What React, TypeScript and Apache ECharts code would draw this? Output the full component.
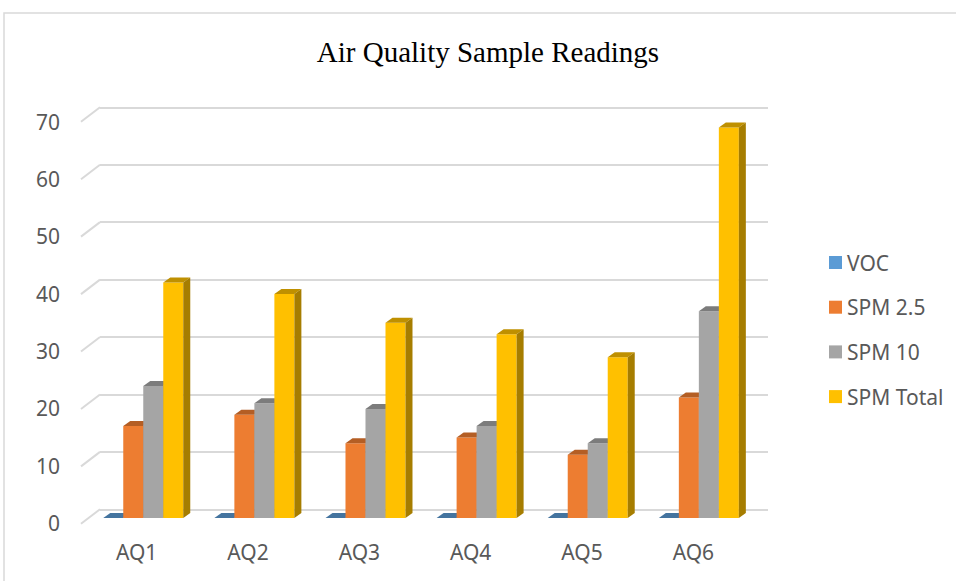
import React, { useEffect, useRef } from "react";
import * as echarts from "echarts";

const categories = ["AQ1", "AQ2", "AQ3", "AQ4", "AQ5", "AQ6"];
const seriesNames = ["VOC", "SPM 2.5", "SPM 10", "SPM Total"];
const vocValues = [0, 0, 0, 0, 0, 0];
const spm25Values = [16, 18, 13, 14, 11, 21];
const spm10Values = [23, 20, 19, 16, 13, 36];
const spmTotalValues = [41, 39, 34, 32, 28, 68];
const yTicks = [0, 10, 20, 30, 40, 50, 60, 70];

const faceColors = [
  { front: "#5B9BD5", top: "#44749F", side: "#3E6B94" },
  { front: "#ED7D31", top: "#B45E24", side: "#A65720" },
  { front: "#A5A5A5", top: "#7C7C7C", side: "#737373" },
  { front: "#FFC000", top: "#BF9000", side: "#A67D00" },
];

const DX = 7;
const DY = 5;
const WALL_DX = 19;
const WALL_DY = 14.5;

function makeBarRenderer(si: number) {
  const faces = faceColors[si];
  return (params: any, api: any) => {
    const cat = api.value(0);
    const val = api.value(1);
    const base = api.coord([cat, 0]);
    const top = api.coord([cat, val]);
    const w = api.size([1, 0])[0] * 0.18;
    const x0 = base[0] + (si - 2) * w;
    const x1 = x0 + w;
    const yb = base[1];
    const yt = top[1];
    return {
      type: "group",
      children: [
        {
          type: "rect",
          shape: { x: x0, y: yt, width: w, height: yb - yt },
          style: { fill: faces.front },
        },
        {
          type: "polygon",
          shape: { points: [[x0, yt], [x1, yt], [x1 + DX, yt - DY], [x0 + DX, yt - DY]] },
          style: { fill: faces.top },
        },
        {
          type: "polygon",
          shape: { points: [[x1, yt], [x1 + DX, yt - DY], [x1 + DX, yb - DY], [x1, yb]] },
          style: { fill: faces.side },
        },
      ],
    };
  };
}

const wallRenderer = (params: any, api: any) => {
  const y = api.coord([0, api.value(1)])[1];
  const x = params.coordSys.x;
  return {
    type: "line",
    shape: { x1: x, y1: y, x2: x - WALL_DX, y2: y + WALL_DY },
    style: { stroke: "#D9D9D9", lineWidth: 2 },
  };
};

export default function App() {
  const ref = useRef<HTMLDivElement>(null);
  useEffect(() => {
    document.body.style.margin = "0";
    const chart = echarts.init(ref.current!, null, { renderer: "svg" });
    const labelFont = { fontFamily: "Noto Sans", fontSize: 21, color: "#595959" };
    const valuesList = [vocValues, spm25Values, spm10Values, spmTotalValues];
    chart.setOption({
      animation: false,
      backgroundColor: "#ffffff",
      title: {
        text: "Air Quality Sample Readings",
        left: 483,
        top: 32,
        textAlign: "center",
        textStyle: { fontFamily: "Liberation Serif", fontSize: 29, fontWeight: "normal", color: "#000000" },
      },
      legend: {
        orient: "vertical",
        left: 824,
        top: 247,
        itemWidth: 13,
        itemHeight: 13,
        itemGap: 23.7,
        icon: "rect",
        data: seriesNames,
        textStyle: { ...labelFont, lineHeight: 21 },
      },
      graphic: [
        {
          type: "rect",
          silent: true,
          z: -10,
          shape: { x: 4, y: 13, width: 1000, height: 1000 },
          style: { fill: "none", stroke: "#D9D9D9", lineWidth: 1.5 },
        },
      ],
      grid: [
        { left: 100, top: 107.3, width: 668, height: 402 },
        { left: 81, top: 121.7, width: 668, height: 401.5 },
        { left: 87.7, top: 116, width: 666.7, height: 402 },
      ],
      xAxis: [
        { gridIndex: 0, type: "category", data: categories, show: false },
        {
          gridIndex: 1,
          type: "category",
          data: categories,
          axisLine: { show: false },
          axisTick: { show: false },
          axisLabel: { ...labelFont, margin: 18 },
        },
        { gridIndex: 2, type: "category", data: categories, show: false },
      ],
      yAxis: [
        {
          gridIndex: 0,
          type: "value",
          min: 0,
          max: 70,
          interval: 10,
          axisLine: { show: false },
          axisTick: { show: false },
          axisLabel: { show: false },
          splitLine: { show: true, lineStyle: { color: "#D9D9D9", width: 2 } },
        },
        {
          gridIndex: 1,
          type: "value",
          min: 0,
          max: 70,
          interval: 10,
          axisLine: { show: false },
          axisTick: { show: false },
          splitLine: { show: false },
          axisLabel: { ...labelFont, margin: 21 },
        },
        {
          gridIndex: 2,
          type: "value",
          min: 0,
          max: 70,
          interval: 10,
          show: false,
          splitLine: { show: false },
        },
      ],
      series: [
        {
          type: "custom",
          name: "wall",
          xAxisIndex: 0,
          yAxisIndex: 0,
          silent: true,
          clip: false,
          renderItem: wallRenderer,
          data: yTicks.map((v) => [0, v]),
        },
        ...seriesNames.map((name, si) => ({
          type: "custom",
          name,
          xAxisIndex: 2,
          yAxisIndex: 2,
          clip: false,
          itemStyle: { color: faceColors[si].front },
          renderItem: makeBarRenderer(si),
          data: valuesList[si].map((v, i) => [i, v]),
        })),
      ],
    });
    return () => chart.dispose();
  }, []);
  return <div ref={ref} style={{ width: 956, height: 581 }} />;
}
